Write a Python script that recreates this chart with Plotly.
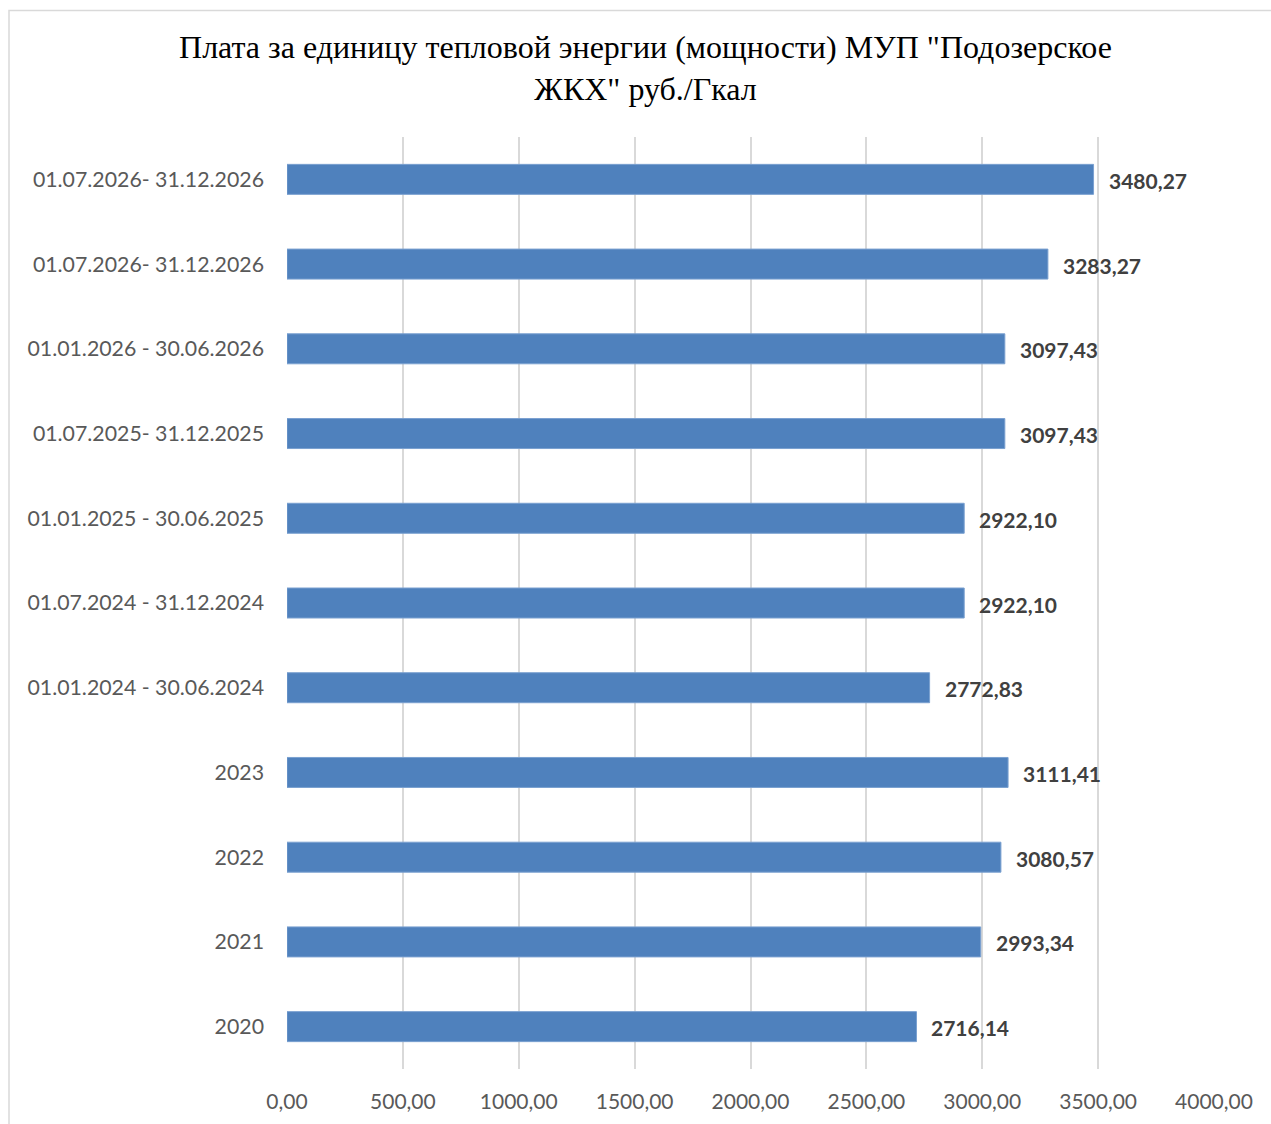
import plotly.graph_objects as go

categories = [
    "01.07.2026- 31.12.2026",
    "01.07.2026- 31.12.2026",
    "01.01.2026 - 30.06.2026",
    "01.07.2025- 31.12.2025",
    "01.01.2025 - 30.06.2025",
    "01.07.2024 - 31.12.2024",
    "01.01.2024 - 30.06.2024",
    "2023",
    "2022",
    "2021",
    "2020",
]
values = [3480.27, 3283.27, 3097.43, 3097.43, 2922.10, 2922.10, 2772.83,
          3111.41, 3080.57, 2993.34, 2716.14]
x_ticks = [0, 500, 1000, 1500, 2000, 2500, 3000, 3500, 4000]

positions = list(range(len(categories)))

fig = go.Figure()
fig.add_trace(go.Bar(
    y=positions,
    x=values,
    orientation="h",
    marker=dict(color="#4f81bd", line=dict(color="#7aa0d0", width=1)),
    width=0.354,
    hoverinfo="x",
))

for p, v in zip(positions, values):
    fig.add_annotation(
        x=v, y=p, xref="x", yref="y",
        text=f"{v:.2f}".replace(".", ","),
        showarrow=False, xanchor="left", xshift=13, yshift=-1,
        font=dict(family="Lato", size=21, color="#404040", weight="bold"),
    )

W, H = 1271, 1124
L, R, T, B = 287, 1214, 137, 1069
fig.add_shape(
    type="rect", xref="paper", yref="paper",
    x0=(9 - L) / (R - L), x1=(1300 - L) / (R - L),
    y0=(B - 1150) / (B - T), y1=(B - 10.5) / (B - T),
    line=dict(color="#d9d9d9", width=1.5), fillcolor="rgba(0,0,0,0)",
    layer="below",
)

fig.update_layout(
    width=W, height=H,
    margin=dict(l=L, r=W - R, t=T, b=H - B, pad=0),
    paper_bgcolor="white", plot_bgcolor="white",
    separators=", ",
    showlegend=False,
    title=dict(
        text="Плата за единицу тепловой энергии (мощности) МУП \"Подозерское<br>ЖКХ\" руб./Гкал",
        x=(W / 2 + 10) / W, xanchor="center", y=1 - 58 / H, yanchor="top",
        font=dict(family="Liberation Serif", size=32, color="#000000"),
    ),
    xaxis=dict(
        range=[0, 4000], tickvals=x_ticks, tickformat=".2f",
        showgrid=True, gridcolor="#d9d9d9", gridwidth=1.5,
        zeroline=False, showline=False, ticks="",
        tickfont=dict(family="Lato", size=21, color="#595959"),
        ticklabelstandoff=18,
    ),
    yaxis=dict(
        range=[len(categories) - 0.5, -0.5],
        tickvals=positions, ticktext=categories,
        showgrid=False, zeroline=False, showline=False, ticks="",
        tickfont=dict(family="Lato", size=21.3, color="#595959"),
        ticklabelstandoff=22,
    ),
)

fig.write_html("out.html")
